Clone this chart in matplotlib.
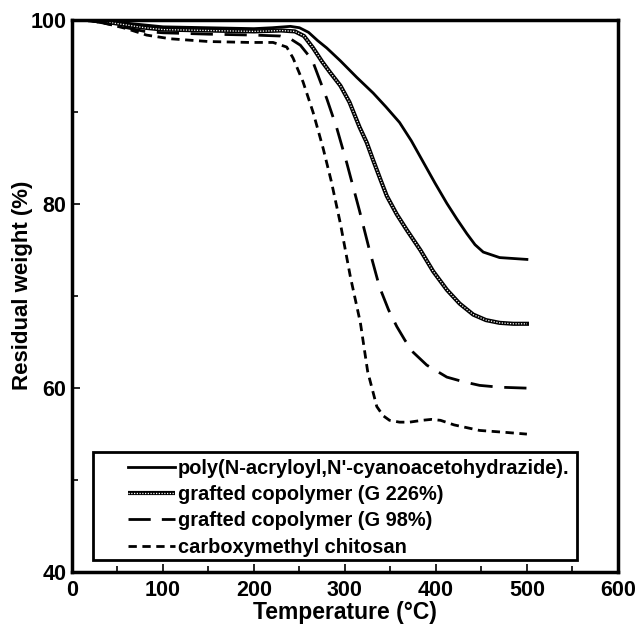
import matplotlib
matplotlib.use("Agg")
import matplotlib.pyplot as plt
from matplotlib.lines import Line2D
from matplotlib.patches import Rectangle
from matplotlib.legend_handler import HandlerBase
from matplotlib.ticker import MultipleLocator

plt.rcParams['font.family'] = ['Liberation Sans', 'DejaVu Sans']
plt.rcParams['font.weight'] = 'bold'
plt.rcParams['mathtext.fontset'] = 'custom'
plt.rcParams['mathtext.bf'] = 'Liberation Sans:bold'
plt.rcParams['mathtext.rm'] = 'Liberation Sans:bold'

# ---- data ----
t_poly = [20, 40, 60, 80, 100, 150, 200, 220, 240, 250, 260, 270, 280, 295, 313, 331,
          345, 360, 373, 386, 399, 412, 423, 434, 443, 452, 470, 485, 500]
w_poly = [100, 99.9, 99.7, 99.5, 99.3, 99.2, 99.1, 99.2, 99.35, 99.2, 98.7, 97.8, 97.0,
          95.6, 93.8, 92.1, 90.6, 88.9, 86.9, 84.6, 82.3, 80.1, 78.4, 76.8, 75.6, 74.8,
          74.2, 74.1, 74.0]

t_g226 = [20, 40, 60, 80, 100, 150, 200, 230, 245, 255, 265, 275, 284, 295, 305, 316,
          324, 331, 339, 346, 357, 368, 383, 397, 412, 426, 441, 455, 470, 485, 500]
w_g226 = [100, 99.8, 99.5, 99.2, 99.0, 98.9, 98.8, 98.9, 98.8, 98.3, 97.0, 95.5, 94.3,
          92.9, 91.1, 88.4, 86.7, 84.8, 82.7, 80.9, 78.9, 77.2, 75.0, 72.7, 70.7, 69.2,
          68.0, 67.4, 67.1, 67.0, 67.0]

t_g98 = [20, 40, 60, 80, 100, 150, 200, 229, 240, 251, 264, 280, 291, 302, 316, 327,
         338, 348, 357, 366, 375, 390, 412, 430, 448, 470, 500]
w_g98 = [100, 99.6, 99.2, 98.8, 98.65, 98.5, 98.4, 98.3, 98.0, 97.3, 95.7, 91.5, 88.3,
         84.5, 79.3, 75.0, 71.0, 68.5, 66.7, 65.2, 63.9, 62.5, 61.2, 60.7, 60.3, 60.1,
         60.0]

t_cmc = [20, 40, 60, 82, 108, 150, 195, 221, 236, 243, 254, 265, 276, 285, 295, 306,
         317, 325, 335, 342, 349, 360, 371, 385, 395, 405, 420, 448, 475, 500]
w_cmc = [100, 99.6, 99.1, 98.4, 98.0, 97.7, 97.6, 97.6, 97.1, 95.9, 93.3, 90.0, 86.1,
         82.5, 77.9, 72.1, 67.1, 61.8, 58.0, 57.0, 56.5, 56.3, 56.3, 56.5, 56.6, 56.5,
         56.0, 55.4, 55.2, 55.0]

labels = ["poly(N-acryloyl,N'-cyanoacetohydrazide).",
          "grafted copolymer (G 226%)",
          "grafted copolymer (G 98%)",
          "carboxymethyl chitosan"]


class HandlerDouble(HandlerBase):
    def create_artists(self, legend, orig_handle, xdescent, ydescent, width, height,
                       fontsize, trans):
        y = (height - ydescent) / 2.0
        x = [-xdescent, -xdescent + width]
        a = Line2D(x, [y, y], color='black', lw=3.0, solid_capstyle='butt')
        b = Line2D(x, [y, y], color='white', lw=0.9, dashes=(1, 1.2))
        a.set_transform(trans)
        b.set_transform(trans)
        return [a, b]


fig = plt.figure(figsize=(6.37, 6.29), dpi=100)
ax = fig.add_axes([0.113, 0.0906, 0.857, 0.877])

l1, = ax.plot(t_poly, w_poly, color='black', lw=2.0)
l2a, = ax.plot(t_g226, w_g226, color='black', lw=3.0)
l2b, = ax.plot(t_g226, w_g226, color='white', lw=0.9, dashes=(1, 1.2))
l3, = ax.plot(t_g98, w_g98, color='black', lw=2.0, dashes=(8, 4.2))
l4, = ax.plot(t_cmc, w_cmc, color='black', lw=2.0, dashes=(3, 2))

ax.set_xlim(0, 600)
ax.set_ylim(40, 100)
ax.xaxis.set_major_locator(MultipleLocator(100))
ax.xaxis.set_minor_locator(MultipleLocator(50))
ax.yaxis.set_major_locator(MultipleLocator(20))
ax.yaxis.set_minor_locator(MultipleLocator(10))
ax.tick_params(which='both', direction='in', width=1.2, labelsize=15.5, top=False, right=False)
ax.tick_params(which='major', length=6)
ax.tick_params(which='minor', length=4)
ax.tick_params(axis='x', which='major', pad=6)
ax.tick_params(axis='y', which='major', pad=4)
for s in ax.spines.values():
    s.set_linewidth(2.5)

ax.set_xlabel('Temperature (\u00b0C)', fontsize=16.5, fontweight='bold', labelpad=0)
ax.set_ylabel('Residual weight (%)', fontsize=16, fontweight='bold')
ax.yaxis.set_label_coords(-0.072, 0.52)

# legend box
rect = Rectangle((0.038, 0.022), 0.887, 0.195, transform=ax.transAxes,
                 facecolor='white', edgecolor='black', lw=2.0, zorder=5)
ax.add_patch(rect)
h3 = Line2D([], [], color='black', lw=2.0, dashes=(8, 4))
leg = ax.legend([l1, l2a, h3, l4], labels,
                handler_map={l2a: HandlerDouble()},
                loc='upper left', bbox_to_anchor=(0.1026, 0.205),
                frameon=False, borderpad=0, borderaxespad=0, handlelength=2.35,
                handletextpad=0.15, labelspacing=0.36,
                prop={'size': 14.4, 'weight': 'bold'})
leg.set_zorder(6)

fig.savefig('out.png', dpi=100)
